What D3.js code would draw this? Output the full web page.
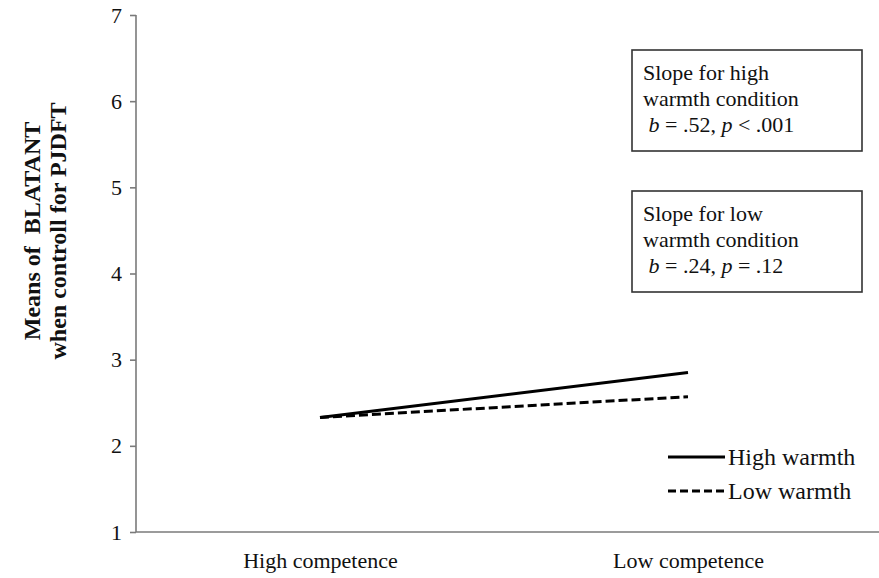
<!DOCTYPE html>
<html>
<head>
<meta charset="utf-8">
<script src="https://cdn.jsdelivr.net/npm/d3@7"></script>
<style>
  body { margin: 0; background: #fff; }
  svg { display: block; }
  svg text { font-family: "Liberation Serif", "Times New Roman", serif; fill: #111; }
  .axis path, .axis line { stroke: #7a7a7a; stroke-width: 1.6; }
  .axis text { font-size: 22px; }
</style>
</head>
<body>
<svg id="chart" width="879" height="578"></svg>
<script>
// DATA
const categories = ['High competence', 'Low competence']
const highWarmth = [2.33, 2.85]
const lowWarmth  = [2.33, 2.57]
const yTicks     = [1, 2, 3, 4, 5, 6, 7]
const seriesNames = ['High warmth', 'Low warmth']
const slopeNotes = [
    ['Slope for high', 'warmth condition', ['b', ' = .52, ', 'p', ' < .001']],
    ['Slope for low',  'warmth condition', ['b', ' = .24, ', 'p', ' = .12']]
]

const svg = d3.select('#chart')
const margin = { left: 136, right: 0, top: 15, bottom: 46 }
const W = 879, H = 578

// scales
const x = d3.scalePoint().domain(categories).range([margin.left, 872]).padding(0.5)
const y = d3.scaleLinear().domain([1, 7]).range([H - margin.bottom, margin.top])

// y axis
const yAxis = svg.append('g').attr('class', 'axis')
    .attr('transform', `translate(${margin.left},0)`)
    .call(d3.axisLeft(y).tickValues(yTicks).tickFormat(d3.format('d')).tickSize(6).tickSizeOuter(0).tickPadding(8))
yAxis.attr('font-family', null).attr('font-size', null)
yAxis.select('.domain').attr('d', `M0,${y(7)}H0V${y(1)}`)

// x axis
const xAxis = svg.append('g').attr('class', 'axis')
    .attr('transform', `translate(0,${y(1)})`)
    .call(d3.axisBottom(x).tickSize(0).tickPadding(20))
xAxis.attr('font-family', null).attr('font-size', null)
xAxis.select('.domain').attr('d', `M${margin.left},0H${W}`)

// y title
const yTitle = svg.append('text')
    .attr('transform', `translate(0,231) rotate(-90)`)
    .attr('text-anchor', 'middle')
    .attr('font-weight', 'bold')
    .attr('font-size', 24)
    .style('white-space', 'pre')
yTitle.append('tspan').attr('x', 0).attr('y', 40).text('Means of  BLATANT')
yTitle.append('tspan').attr('x', 0).attr('y', 66).text('when controll for PJDFT')

// lines
const line = d3.line().x((d, i) => x(categories[i])).y(d => y(d))
svg.append('path').datum(highWarmth)
    .attr('d', line).attr('fill', 'none').attr('stroke', '#000').attr('stroke-width', 3)
svg.append('path').datum(lowWarmth)
    .attr('d', line).attr('fill', 'none').attr('stroke', '#000').attr('stroke-width', 3)
    .attr('stroke-dasharray', '9,4')

// legend
const legend = svg.append('g').attr('transform', 'translate(668,457)')
seriesNames.forEach((name, i) => {
    const g = legend.append('g').attr('transform', `translate(0,${i * 34})`)
    g.append('line').attr('x1', 0).attr('x2', 57).attr('y1', 0).attr('y2', 0)
        .attr('stroke', '#000').attr('stroke-width', 3)
        .attr('stroke-dasharray', i === 1 ? '8,4' : null)
    g.append('text').attr('x', 60).attr('y', 8).attr('font-size', 24).text(name)
})

// slope boxes
slopeNotes.forEach((note, i) => {
    const g = svg.append('g').attr('transform', `translate(632,${50 + i * 141})`)
    g.append('rect').attr('width', 230).attr('height', 101)
        .attr('fill', '#fff').attr('stroke', '#333').attr('stroke-width', 1.6)
    g.append('text').attr('x', 11).attr('y', 30).attr('font-size', 22).text(note[0])
    g.append('text').attr('x', 11).attr('y', 56).attr('font-size', 22).text(note[1])
    const t = g.append('text').attr('x', 11).attr('y', 82).attr('font-size', 22).style('white-space', 'pre')
    note[2].forEach((part, j) => {
        t.append('tspan').attr('font-style', j % 2 === 0 ? 'italic' : null).text(j === 0 ? ' ' + part : part)
    })
})
</script>
</body>
</html>
